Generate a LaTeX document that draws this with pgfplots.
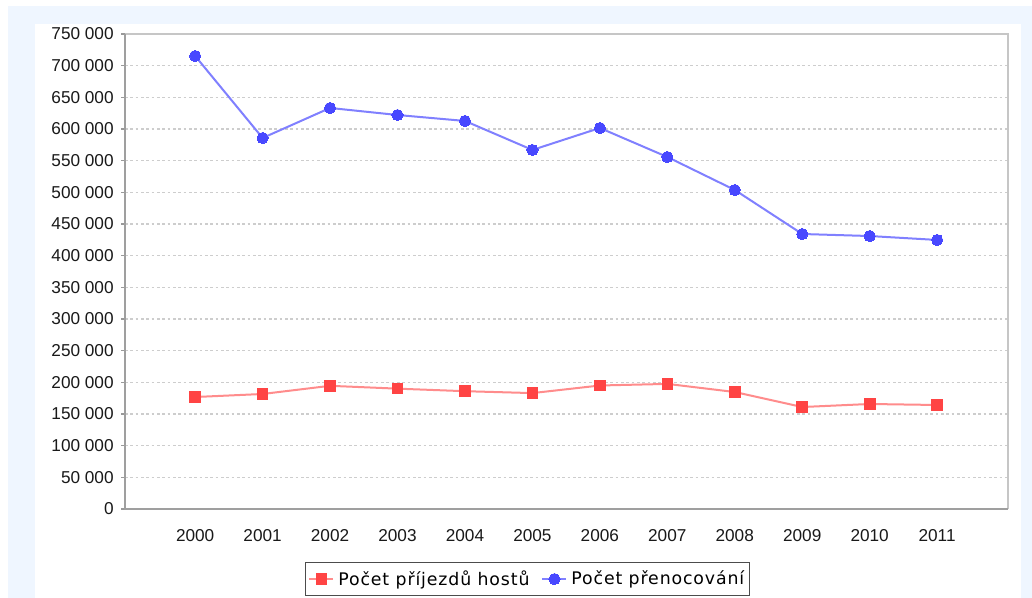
\documentclass[border=0pt]{standalone}
\usepackage{fontspec}
\setmainfont{Liberation Sans}
\newfontfamily\legfont[LetterSpace=5]{DejaVu Sans}
\usepackage{pgfplots}
\pgfplotsset{compat=1.18}
\definecolor{bgblue}{RGB}{239,246,255}
\definecolor{redmark}{RGB}{255,68,68}
\definecolor{redline}{RGB}{255,140,140}
\definecolor{bluemark}{RGB}{72,72,255}
\definecolor{blueline}{RGB}{128,128,255}
\definecolor{gridc}{RGB}{205,205,205}
\begin{document}
\begin{tikzpicture}
\begin{scope}[x=0.75pt,y=0.75pt]
\fill[white] (0,0) rectangle (1032,598);
\fill[bgblue] (8,0) rectangle (1032,592);
\fill[white] (35,0) rectangle (1021,574);
\end{scope}
\begin{axis}[
  at={(93.75pt,66.75pt)}, anchor=south west,
  scale only axis, width=662.25pt, height=356.25pt,
  xmin=1998.96, xmax=2012.05,
  ymin=0, ymax=750000,
  ytick distance=50000,
  xtick={2000,...,2011},
  xticklabels={2000,2001,2002,2003,2004,2005,2006,2007,2008,2009,2010,2011},
  scaled y ticks=false,
  /pgf/number format/fixed,
  /pgf/number format/precision=0,
  /pgf/number format/1000 sep={\ },
  /pgf/number format/assume math mode=true,
  tick label style={font=\fontsize{12.9pt}{14pt}\selectfont, text=black!90},
  axis line style={draw=none},
  ymajorgrids,
  major grid style={draw=gridc, line width=1pt, dash pattern=on 2pt off 2pt},
  ytick pos=left, xtick pos=bottom,
  tick align=outside,
  major tick length=3pt,
  ytick style={draw=gray!80, line width=1pt},
  xtick style={draw=none},
  yticklabel style={xshift=-2pt},
  xticklabel style={yshift=-9pt},
  clip=false,
  legend columns=2,
  legend style={
    at={(0.456,-0.1116)}, anchor=north,
    draw=black!70, line width=1pt,
    font=\legfont\fontsize{13pt}{15pt}\selectfont,
    inner xsep=2pt, inner ysep=4pt,
    /tikz/every odd column/.append style={column sep=1pt},
    /tikz/every even column/.append style={column sep=7pt},
  },
  legend image code/.code={
    \draw[#1, mark repeat=2, mark phase=2] plot coordinates {(0pt,0pt) (9pt,0pt) (18pt,0pt)};
  },
]
\draw[gray!45, line width=2.2pt] (rel axis cs:0,1) -- (rel axis cs:1,1) -- (rel axis cs:1,0);
\draw[gray!75, line width=1.6pt] (rel axis cs:0,1) -- (rel axis cs:0,0) -- (rel axis cs:1,0);
\addplot[draw=redline, line width=1.5pt, mark=square*, mark size=4pt,
  mark options={draw=redmark, fill=redmark, line width=0pt}]
  coordinates {
  (2000,176800) (2001,181600) (2002,194500) (2003,190000) (2004,186000)
  (2005,183000) (2006,195000) (2007,197500) (2008,184700) (2009,161000)
  (2010,165800) (2011,164200)};
\addlegendentry{Počet příjezdů hostů}
\addplot[draw=blueline, line width=1.5pt, mark=*, mark size=4.2pt,
  mark options={draw=bluemark, fill=bluemark, line width=0pt}]
  coordinates {
  (2000,715300) (2001,585800) (2002,633200) (2003,622100) (2004,612700)
  (2005,566900) (2006,601600) (2007,555800) (2008,503700) (2009,434200)
  (2010,431000) (2011,424800)};
\addlegendentry{Počet přenocování}
\end{axis}
\end{tikzpicture}
\end{document}
